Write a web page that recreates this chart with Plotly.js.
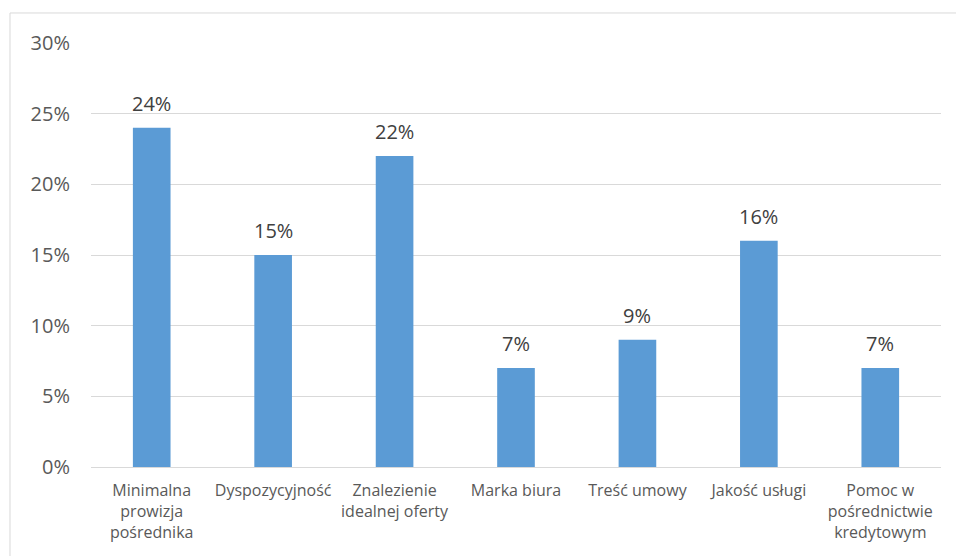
<!DOCTYPE html>
<html>
<head>
<meta charset="utf-8">
<script src="https://cdn.plot.ly/plotly-3.0.1.min.js"></script>
<style>html,body{margin:0;padding:0;background:#fff;}#chart{width:956px;height:556px;}</style>
</head>
<body>
<div id="chart"></div>
<script>
const categories = ["Minimalna<br>prowizja<br>pośrednika", "Dyspozycyjność", "Znalezienie<br>idealnej oferty", "Marka biura", "Treść umowy", "Jakość usługi", "Pomoc w<br>pośrednictwie<br>kredytowym"];
const values = [0.24, 0.15, 0.22, 0.07, 0.09, 0.16, 0.07];
const labels = ["24%", "15%", "22%", "7%", "9%", "16%", "7%"];
const yTickVals = [0, 0.05, 0.10, 0.15, 0.20, 0.25, 0.30];
const yTickText = ["0%", "5%", "10%", "15%", "20%", "25%", "30%"];

const font = "Open Sans, Liberation Sans, sans-serif";
const data = [{
  type: "bar",
  x: categories,
  y: values,
  marker: {color: "#5B9BD5"},
  hoverinfo: "none"
}];
const annotations = categories.map((c, i) => ({
  x: c, y: values[i], xref: "x", yref: "y",
  text: labels[i], showarrow: false,
  yanchor: "bottom", yshift: 9,
  font: {family: font, size: 20, color: "#404040"}
}));
const layout = {
  width: 956, height: 556,
  margin: {l: 91, r: 15, t: 43, b: 89},
  paper_bgcolor: "#fff", plot_bgcolor: "#fff",
  bargap: 0.69,
  showlegend: false,
  annotations: annotations,
  xaxis: {
    tickfont: {family: font, size: 16, color: "#595959"},
    showline: true, linecolor: "#d9d9d9", linewidth: 1,
    ticks: "", ticklabelstandoff: 9, fixedrange: true
  },
  yaxis: {
    range: [0, 0.30],
    tickvals: yTickVals, ticktext: yTickText,
    tickfont: {family: font, size: 20, color: "#595959"},
    showgrid: true, gridcolor: "#d9d9d9", gridwidth: 1,
    zeroline: false, showline: false,
    ticks: "", ticklabelstandoff: 20, fixedrange: true
  },
  shapes: [{
    type: "rect", xref: "paper", yref: "paper",
    x0: -0.0953, x1: 1.03, y0: -0.25, y1: 1.0708,
    line: {color: "#d9d9d9", width: 1}, fillcolor: "rgba(0,0,0,0)"
  }]
};
Plotly.newPlot("chart", data, layout, {displayModeBar: false, staticPlot: true});
</script>
</body>
</html>
